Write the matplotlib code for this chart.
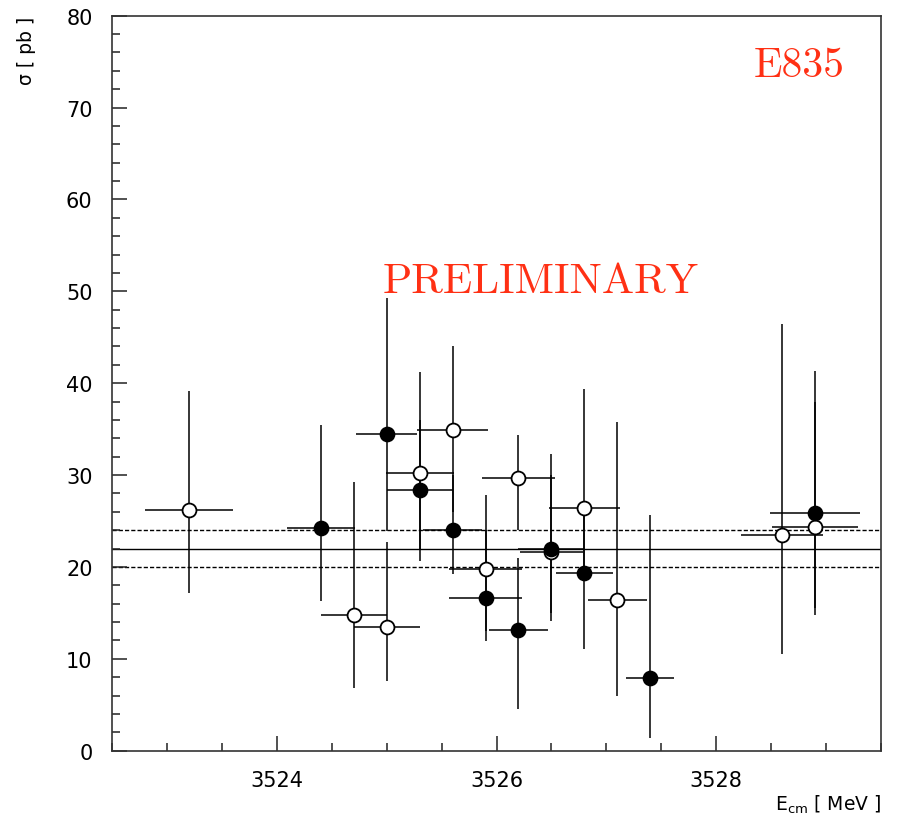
import matplotlib
matplotlib.use('Agg')
import matplotlib.pyplot as plt
import numpy as np
from matplotlib.ticker import MultipleLocator

# open circles: energy, sigma, energy half-width, error bar low/high ends
open_x = [3523.2, 3524.7, 3525.0, 3525.3, 3525.6, 3525.9, 3526.2, 3526.5, 3526.8, 3527.1, 3528.6, 3528.9]
open_y = [26.2, 14.8, 13.5, 30.2, 34.9, 19.8, 29.7, 21.6, 26.4, 16.4, 23.5, 24.3]
open_xerr = [0.40, 0.30, 0.30, 0.31, 0.32, 0.33, 0.33, 0.29, 0.32, 0.27, 0.37, 0.39]
open_ylow = [17.2, 6.8, 7.6, 22.0, 26.0, 13.0, 24.0, 14.1, 19.0, 6.0, 10.5, 15.5]
open_yhigh = [39.2, 29.3, 22.7, 41.2, 44.1, 27.8, 34.4, 30.0, 39.4, 35.8, 46.4, 38.0]

# filled circles
full_x = [3524.4, 3525.0, 3525.3, 3525.6, 3525.9, 3526.2, 3526.5, 3526.8, 3527.4, 3528.9]
full_y = [24.2, 34.5, 28.4, 24.0, 16.6, 13.1, 22.0, 19.3, 7.9, 25.9]
full_xerr = [0.31, 0.28, 0.30, 0.27, 0.33, 0.27, 0.30, 0.26, 0.22, 0.41]
full_ylow = [16.3, 23.9, 20.7, 19.2, 11.9, 4.5, 15.0, 11.1, 1.4, 14.8]
full_yhigh = [35.4, 49.3, 36.0, 30.0, 24.0, 21.0, 32.3, 27.0, 25.7, 41.3]

# fitted mean and its band
fit_mean = 22.0
fit_err = 2.0

red = '#ff3014'

fig = plt.figure(figsize=(8.99, 8.20), dpi=100)
ax = fig.add_axes([112 / 899, 1 - 751.7 / 820, (881 - 112) / 899, (751.7 - 16.7) / 820])

ax.axhline(fit_mean, color='black', lw=1.0, zorder=1)
ax.axhline(fit_mean + fit_err, color='black', lw=1.0, ls=(0, (3, 1.5)), zorder=1)
ax.axhline(fit_mean - fit_err, color='black', lw=1.0, ls=(0, (3, 1.5)), zorder=1)

def draw(x, y, xe, lo, hi, face):
    x = np.array(x); y = np.array(y)
    ye = [y - np.array(lo), np.array(hi) - y]
    ax.errorbar(x, y, xerr=xe, yerr=ye, fmt='none', ecolor='black',
                elinewidth=1.1, capsize=0, zorder=2)
    ax.plot(x, y, 'o', ms=10, mfc=face, mec='black', mew=1.3, zorder=3)

draw(open_x, open_y, open_xerr, open_ylow, open_yhigh, 'white')
draw(full_x, full_y, full_xerr, full_ylow, full_yhigh, 'black')

ax.set_xlim(3522.5, 3529.5)
ax.set_ylim(0, 80)
ax.xaxis.set_major_locator(MultipleLocator(2))
ax.xaxis.set_minor_locator(MultipleLocator(0.5))
ax.yaxis.set_major_locator(MultipleLocator(10))
ax.yaxis.set_minor_locator(MultipleLocator(2))
ax.tick_params(which='both', direction='in', top=False, right=False, width=1.1, color='#222222')
ax.tick_params(which='major', length=11)
ax.tick_params(which='minor', length=5.8)
ax.tick_params(axis='y', which='major', pad=14, labelsize=15)
ax.tick_params(axis='x', which='major', pad=14, labelsize=15)
for s in ax.spines.values():
    s.set_linewidth(1.2)
    s.set_color('#333333')

fig.text(27 / 899, 1 - 17 / 820, 'σ [ pb ]', rotation=90, ha='center', va='top', fontsize=13.5)
fig.text(881 / 899, 1 - 811 / 820, r'$\mathregular{E_{cm}}$ [ MeV ]', ha='right', va='baseline', fontsize=13.5)

ax.text(3528.34, 73.45, 'E835', color=red, fontsize=30, family='cmr10', ha='left', va='baseline')
ax.text(3524.96, 49.9, 'PRELIMINARY', color=red, fontsize=31, family='cmr10', ha='left', va='baseline')

fig.savefig('out.png', dpi=100, facecolor='white')
